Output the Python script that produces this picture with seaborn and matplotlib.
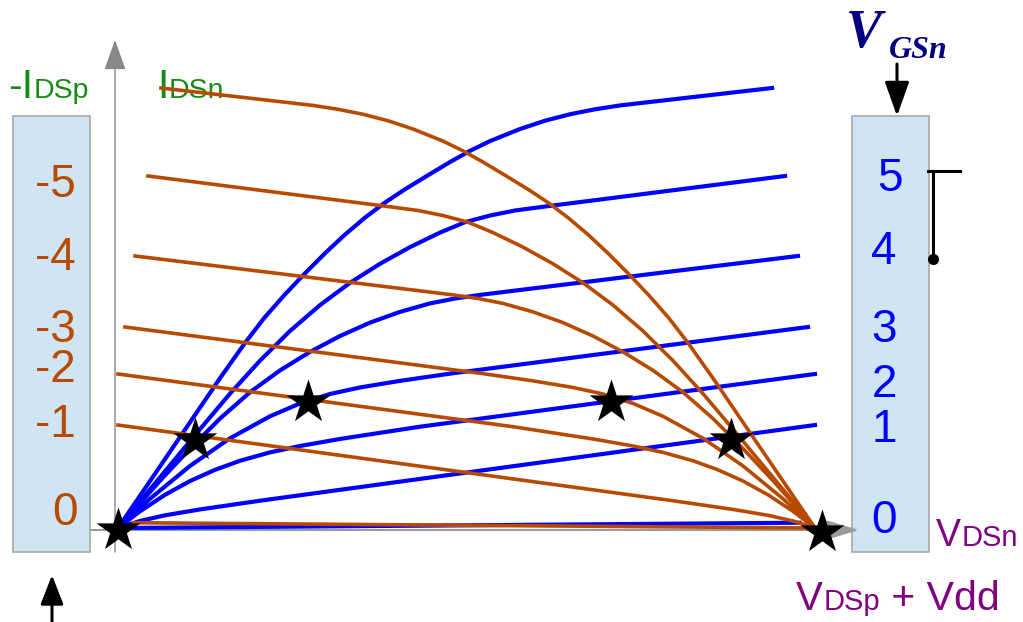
import numpy as np
import pandas as pd
import matplotlib
matplotlib.use("Agg")
import matplotlib.pyplot as plt
from matplotlib.transforms import Affine2D
from matplotlib.patches import Rectangle, FancyArrowPatch
from matplotlib.lines import Line2D
import seaborn as sns

# supply voltage, pMOS curves are drawn against V_DSp + Vdd
vdd = 5.0

# nMOS output curves (I_DSn vs V_DSn), top curve first
vds_1 = [0, 0.230, 0.481, 0.732, 0.911, 1.052, 1.198, 1.342, 1.485, 1.628, 1.772, 1.915,
         2.059, 2.217, 2.382, 2.525, 2.669, 2.884, 3.063, 3.243, 3.422, 3.601, 4.692]
ids_1 = [0, 0.534, 1.118, 1.703, 2.103, 2.393, 2.655, 2.895, 3.122, 3.334, 3.527, 3.698,
         3.849, 4.002, 4.159, 4.286, 4.397, 4.534, 4.628, 4.702, 4.758, 4.802, 5.000]
vds_2 = [0, 0.588, 0.803, 1.019, 1.234, 1.449, 1.664, 1.880, 2.095, 2.310, 2.489, 2.669,
         2.848, 3.063, 4.785]
ids_2 = [0, 1.123, 1.526, 1.902, 2.239, 2.533, 2.786, 3.003, 3.192, 3.357, 3.475, 3.551,
         3.608, 3.653, 4.000]
vds_3 = [0, 0.301, 0.517, 0.732, 0.947, 1.162, 1.377, 1.593, 1.808, 2.023, 2.238, 2.418,
         2.597, 4.878]
ids_3 = [0, 0.537, 0.903, 1.244, 1.543, 1.791, 2.001, 2.182, 2.334, 2.456, 2.552, 2.608,
         2.649, 3.091]
vds_4 = [0, 0.230, 0.517, 0.803, 1.090, 1.306, 1.521, 1.736, 2.023, 2.382, 4.950]
ids_4 = [0, 0.333, 0.706, 1.019, 1.269, 1.416, 1.523, 1.597, 1.672, 1.754, 2.284]
vds_5 = [0, 0.158, 0.337, 0.517, 0.696, 0.875, 1.090, 1.306, 1.593, 2.166, 5.000]
ids_5 = [0, 0.190, 0.377, 0.534, 0.661, 0.764, 0.859, 0.932, 1.012, 1.151, 1.750]
vds_6 = [0, 0.158, 0.337, 0.588, 1.019, 5.000]
ids_6 = [0, 0.080, 0.144, 0.211, 0.310, 1.170]
vds_7 = [0, 4.89]
ids_7 = [0, 0.06]

# operating points of the inverter
star_v = [0, 0.55, 1.36, 3.54, 4.40, 5.05]
star_i = [-0.02, 1.00, 1.43, 1.43, 1.00, -0.04]

# scale labels
gate_labels = ["5", "4", "3", "2", "1", "0"]
pgate_labels = ["-5", "-4", "-3", "-2", "-1", "0"]

curves_v = [vds_1, vds_2, vds_3, vds_4, vds_5, vds_6, vds_7]
curves_i = [ids_1, ids_2, ids_3, ids_4, ids_5, ids_6, ids_7]

rows = []
for k, (vv, ii) in enumerate(zip(curves_v, curves_i)):
    for v, i in zip(vv, ii):
        rows.append({"curve": k, "dev": "n", "V": v, "I": i})
        rows.append({"curve": k, "dev": "p", "V": vdd - v, "I": i})
df = pd.DataFrame(rows)

BLUE = "#0000ff"
ORANGE = "#b84a00"
GREEN = "#148c14"
PURPLE = "#800080"
NAVY = "#000080"
BOXC = "#cfe5f3"
SANS = "Liberation Sans"

W, H = 1023, 622
fig = plt.figure(figsize=(W / 100, H / 100), dpi=100)
ax = fig.add_axes([0, 0, 1, 1])

# pixel coordinates (origin top-left) for the decorations
pix = Affine2D().scale(1 / W, -1 / H).translate(0, 1) + fig.transFigure

# characteristic curves
sns.lineplot(data=df[df.dev == "n"], x="V", y="I", units="curve", estimator=None,
             sort=False, color=BLUE, lw=3.0, ax=ax, zorder=3, legend=False)
sns.lineplot(data=df[df.dev == "p"], x="V", y="I", units="curve", estimator=None,
             sort=False, color=ORANGE, lw=2.6, ax=ax, zorder=4, legend=False)
sns.scatterplot(x=star_v, y=star_i, marker="*", s=1100, color="black",
                linewidth=0, ax=ax, zorder=6, legend=False)
ax.set_xlim(-118 / 139.4, (W - 118) / 139.4)
ax.set_ylim((528 - H) / 88, 528 / 88)
ax.axis("off")

# scale boxes
for x0 in (13, 852):
    ax.add_artist(Rectangle((x0, 116), 77, 436, transform=pix, facecolor=BOXC,
                            edgecolor="#a8a8a8", lw=1.2, zorder=0))

# axes with arrows
ax.add_artist(FancyArrowPatch((115, 552), (115, 40), transform=pix,
                              arrowstyle="-|>,head_length=19,head_width=6.8",
                              mutation_scale=1, shrinkA=0, shrinkB=0,
                              color="#888888", lw=1.0, zorder=1))
ax.add_artist(FancyArrowPatch((91, 530), (859, 530), transform=pix,
                              arrowstyle="-|>,head_length=20,head_width=6",
                              mutation_scale=1, shrinkA=0, shrinkB=0,
                              color="#9a9a9a", lw=1.5, zorder=1))

# gate voltage labels
right_base = [191, 264, 342, 397, 442, 533]
right_x = [890, 884, 884, 884, 884, 884]
for lab, yb, xc in zip(gate_labels, right_base, right_x):
    ax.text(xc, yb, lab, transform=pix, ha="center", va="baseline",
            fontsize=33, color=BLUE, family=SANS, zorder=2)
left_base = [197, 270, 342, 382, 437, 525]
for lab, yb in zip(pgate_labels, left_base):
    if lab == "0":
        ax.text(65, yb, lab, transform=pix, ha="center", va="baseline",
                fontsize=33, color=ORANGE, family=SANS, zorder=2)
    else:
        ax.text(76, yb, lab, transform=pix, ha="right", va="baseline",
                fontsize=33, color=ORANGE, family=SANS, zorder=2)

# axis titles
ax.text(8, 98, "-I", transform=pix, fontsize=29.5, color=GREEN, family=SANS, va="baseline", zorder=2)
ax.text(34, 98, "DSp", transform=pix, fontsize=20.5, color=GREEN, family=SANS, va="baseline", zorder=2)
ax.text(157, 98, "I", transform=pix, fontsize=29.5, color=GREEN, family=SANS, va="baseline", zorder=2)
ax.text(169, 98, "DSn", transform=pix, fontsize=20.5, color=GREEN, family=SANS, va="baseline", zorder=2)

ax.text(936, 546, "V", transform=pix, fontsize=27, color=PURPLE, family=SANS, va="baseline", zorder=2)
ax.text(962, 546, "DSn", transform=pix, fontsize=21, color=PURPLE, family=SANS, va="baseline", zorder=2)
ax.text(796, 610, "V", transform=pix, fontsize=29, color=PURPLE, family=SANS, va="baseline", zorder=2)
ax.text(824, 610, "DSp", transform=pix, fontsize=21, color=PURPLE, family=SANS, va="baseline", zorder=2)
ax.text(880, 610, " + Vdd", transform=pix, fontsize=29.5, color=PURPLE, family=SANS, va="baseline", zorder=2)

ax.text(846, 47, "V", transform=pix, fontsize=39, color=NAVY, family="Liberation Serif",
        weight="bold", style="italic", va="baseline", zorder=2)
ax.text(889, 58, "GSn", transform=pix, fontsize=23, color=NAVY, family="Liberation Serif",
        weight="bold", style="italic", va="baseline", zorder=2)

# black arrows
ax.add_artist(FancyArrowPatch((897, 64), (897, 116), transform=pix,
                              arrowstyle="-|>,head_length=21,head_width=7.5",
                              mutation_scale=1, shrinkA=0, shrinkB=0,
                              color="black", lw=2.2, zorder=2))
ax.add_artist(FancyArrowPatch((52, 630), (52, 575), transform=pix,
                              arrowstyle="-|>,head_length=18,head_width=7",
                              mutation_scale=1, shrinkA=0, shrinkB=0,
                              color="black", lw=2.2, zorder=2))

# bracket on the right scale
ax.add_artist(Line2D([928, 960], [171, 171], transform=pix, color="black", lw=2.2))
ax.add_artist(Line2D([933, 933], [171, 259], transform=pix, color="black", lw=2.2))
ax.add_artist(Line2D([933], [259], transform=pix, color="black", marker="o", ms=7))

fig.savefig("out.png", dpi=100)
